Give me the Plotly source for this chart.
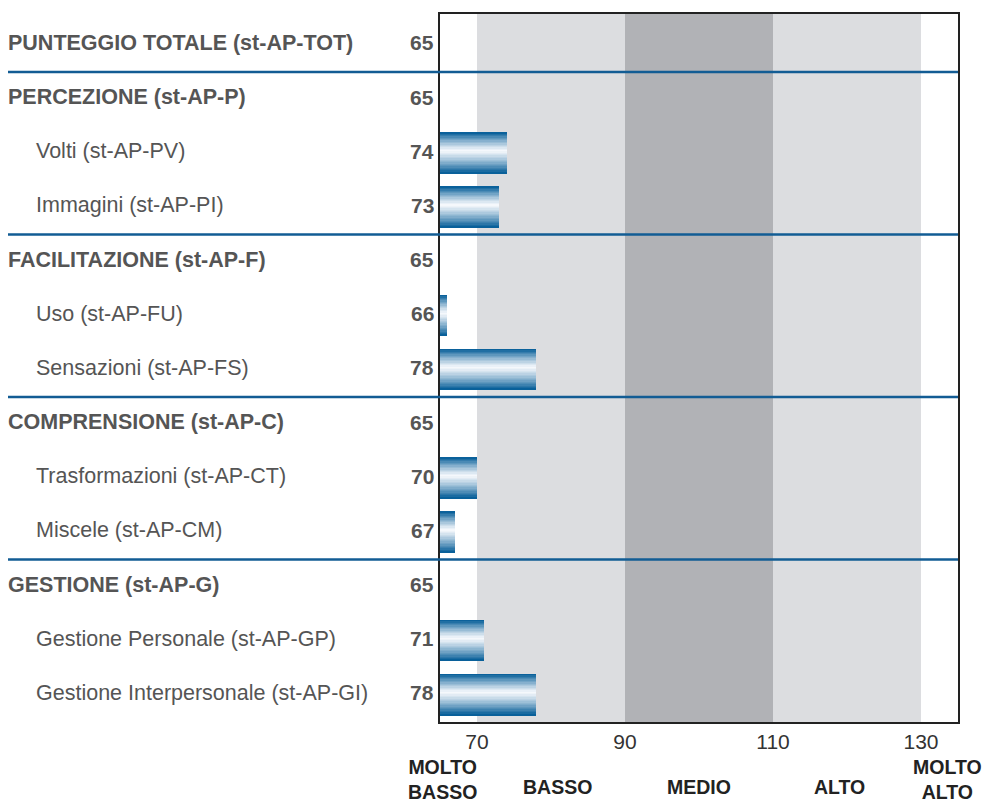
import plotly.graph_objects as go

labels = [
    "PUNTEGGIO TOTALE (st-AP-TOT)",
    "PERCEZIONE (st-AP-P)",
    "Volti (st-AP-PV)",
    "Immagini (st-AP-PI)",
    "FACILITAZIONE (st-AP-F)",
    "Uso (st-AP-FU)",
    "Sensazioni (st-AP-FS)",
    "COMPRENSIONE (st-AP-C)",
    "Trasformazioni (st-AP-CT)",
    "Miscele (st-AP-CM)",
    "GESTIONE (st-AP-G)",
    "Gestione Personale (st-AP-GP)",
    "Gestione Interpersonale (st-AP-GI)",
]
is_group = [True, True, False, False, True, False, False, True, False, False, True, False, False]
scores = [65, 65, 74, 73, 65, 66, 78, 65, 70, 67, 65, 71, 78]

band_edges = [70, 90, 110, 130]
band_colors = ["#dcdde0", "#b1b2b6", "#dcdde0"]
tick_vals = [70, 90, 110, 130]
range_names = ["MOLTO<br>BASSO", "BASSO", "MEDIO", "ALTO", "MOLTO<br>ALTO"]
range_pos = [65.3, 80.9, 100, 119, 133.6]
separators = [0.5, 3.5, 6.5, 9.5]

XMIN, XMAX = 65, 135
# page body adds 8px, so the figure is drawn 8px smaller
W, H = 982, 797
L, R, T, B = 432, 32, 4, 83
PW = W - L - R
PH = H - T - B

rows = list(range(len(labels)))
fig = go.Figure()

# cylinder look: stack thin strips, dark blue at edges, near white just above middle
bar_h = 0.755
n_strips = 30
dark = (0, 90, 150)
light = (245, 248, 252)
for i in range(n_strips):
    t = (i + 0.5) / n_strips  # 0 top -> 1 bottom
    c = 0.45
    d = abs(t - c) / (c if t < c else 1 - c)
    f = d ** 1.2
    col = tuple(round(light[k] + (dark[k] - light[k]) * f) for k in range(3))
    fig.add_trace(
        go.Bar(
            y=rows,
            x=scores,
            orientation="h",
            width=bar_h / n_strips * 1.1,
            offset=-bar_h / 2 + bar_h * i / n_strips,
            marker=dict(color="rgb(%d,%d,%d)" % col, line=dict(width=0)),
            showlegend=False,
            hoverinfo="skip" if i else "x+y",
        )
    )

for (x0, x1), c in zip(zip(band_edges[:-1], band_edges[1:]), band_colors):
    fig.add_shape(type="rect", xref="x", yref="paper", x0=x0, x1=x1, y0=0, y1=1,
                  fillcolor=c, line_width=0, layer="below")

for y in separators:
    fig.add_shape(type="line", xref="paper", yref="y", x0=-L / PW, x1=1, y0=y, y1=y,
                  line=dict(color="#125c94", width=2.5), layer="above")

for r, (lab, g, s) in enumerate(zip(labels, is_group, scores)):
    fig.add_annotation(
        xref="paper", yref="y", x=((-2 if g else 26) - L) / PW, y=r, yshift=2,
        text="<b>%s</b>" % lab if g else lab, showarrow=False,
        xanchor="left", yanchor="middle",
        font=dict(size=21.5, color="#555555"),
    )
    fig.add_annotation(
        xref="paper", yref="y", x=(428 - L) / PW, y=r, yshift=2,
        text="<b>%d</b>" % s, showarrow=False, xanchor="right", yanchor="middle",
        font=dict(size=21, color="#555555"),
    )

for name, xp in zip(range_names, range_pos):
    two = "<br>" in name
    ypix = 772 if two else 779  # figure pixels
    fig.add_annotation(
        xref="x", yref="paper", x=xp, y=-(ypix - (T + PH)) / PH,
        text="<b>%s</b>" % name,
        showarrow=False, xanchor="center", yanchor="middle",
        font=dict(size=19.5, color="#222222"),
    )

fig.update_layout(
    width=W, height=H,
    margin=dict(l=L, r=R, t=T, b=B),
    paper_bgcolor="white", plot_bgcolor="white",
    barmode="overlay", bargap=0,
    font=dict(family="Liberation Sans, Arial, sans-serif"),
)
fig.update_xaxes(
    range=[XMIN, XMAX], tickvals=tick_vals, showgrid=False, zeroline=False,
    showline=True, mirror=True, linecolor="#222222", linewidth=2,
    ticks="", tickfont=dict(size=21, color="#333333"),
)
fig.update_yaxes(
    range=[12.5, -0.57], showticklabels=False, showgrid=False, zeroline=False,
    showline=True, mirror=True, linecolor="#222222", linewidth=2, ticks="",
)

fig.write_html("out.html")
